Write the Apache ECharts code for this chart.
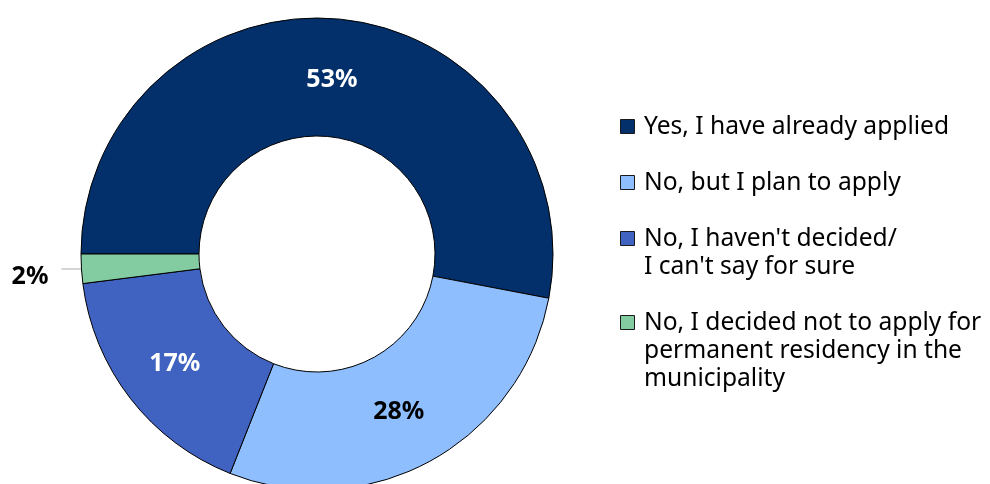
<!DOCTYPE html>
<html>
<head>
<meta charset="utf-8">
<script src="https://cdn.jsdelivr.net/npm/echarts@6/dist/echarts.min.js"></script>
<style>
  html, body { margin: 0; padding: 0; background: #fff; }
  #chart { width: 990px; height: 484px; }
</style>
</head>
<body>
<div id="chart"></div>
<script>
// Answers to "Have you applied for permanent residency?"
const categories = [
  'Yes, I have already applied',
  'No, but I plan to apply',
  "No, I haven't decided/\nI can't say for sure",
  'No, I decided not to apply for\npermanent residency in the\nmunicipality'
];
const shares = [53, 28, 17, 2];
const sliceColors = ['#03306b', '#8ebefe', '#4062c0', '#83cba1'];
const labelColors = ['#ffffff', '#000000', '#ffffff', '#000000'];
// Small nudges of each value label from its default spot: [dx, dy]
const labelNudge = [[-2, 5], [-5, 0], [0, 0], [-8, 8]];

const FONT = '"Noto Sans", "Open Sans", sans-serif';

const chart = echarts.init(document.getElementById('chart'), null, { renderer: 'canvas' });

const pieData = categories.map((name, i) => {
  const item = {
    name,
    value: shares[i],
    itemStyle: { color: sliceColors[i] },
    label: { color: labelColors[i] }
  };
  if (i === 3) {
    item.label = { position: 'outside', color: '#000' };
    item.labelLine = { show: true, length: 4, length2: 16, lineStyle: { color: '#c8c8c8', width: 1.5 } };
  }
  return item;
});

// Legend drawn as swatch + text rows, first line aligned with the swatch
const legendGraphics = [];
const LINE_H = 28;
let rowCenter = 127;
categories.forEach((name, i) => {
  const lines = name.split('\n').length;
  legendGraphics.push({
    type: 'rect',
    shape: { x: 620.5, y: rowCenter - 7.5, width: 14, height: 14 },
    style: { fill: sliceColors[i], stroke: '#1a1a1a', lineWidth: 1 }
  });
  legendGraphics.push({
    type: 'text',
    x: 644,
    y: rowCenter - LINE_H / 2,
    style: {
      text: name,
      font: '24.6px ' + FONT,
      fill: '#000',
      lineHeight: LINE_H,
      verticalAlign: 'top',
      align: 'left'
    }
  });
  rowCenter += lines * LINE_H + LINE_H;
});

chart.setOption({
  animation: false,
  graphic: legendGraphics,
  series: [{
    type: 'pie',
    center: [317, 254],
    radius: [118, 236],
    startAngle: 180,
    clockwise: true,
    avoidLabelOverlap: false,
    data: pieData,
    itemStyle: { borderColor: '#000', borderWidth: 1 },
    label: {
      show: true,
      position: 'inside',
      formatter: '{c}%',
      fontFamily: FONT,
      fontWeight: 'bold',
      fontSize: 25
    },
    labelLayout: function (params) {
      const n = labelNudge[params.dataIndex];
      return { dx: n[0], dy: n[1] };
    },
    labelLine: { show: false },
    emphasis: { disabled: true }
  }]
});
</script>
</body>
</html>
